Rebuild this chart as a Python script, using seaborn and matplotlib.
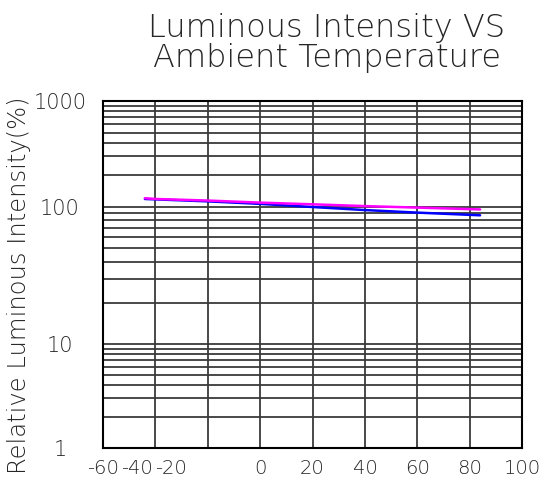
import numpy as np
import pandas as pd
import matplotlib
matplotlib.use('Agg')
import matplotlib.pyplot as plt
import matplotlib.transforms as mtransforms
from matplotlib.ticker import FixedLocator, NullFormatter
import seaborn as sns

# values
temps = [-44, -40, -20, 0, 20, 40, 60, 84]
blue_vals = [119, 118, 113, 107, 100, 95, 91, 87]
pink_vals = [121, 119, 115, 110, 106, 102, 99, 96]

x_ticks = [-60, -40, -20, 0, 20, 40, 60, 80, 100]
y_ticks = [1, 10, 100, 1000]
y_ticklabels = ['1', '10', '100', '1000']

sns.set_style('white')
plt.rcParams['font.family'] = ['DejaVu Sans']

df = pd.DataFrame({
  'temp': temps * 2,
  'val': blue_vals + pink_vals,
  'series': ['blue'] * len(temps) + ['pink'] * len(temps),
})

# the drawn grid is not an even log scale: decades sit at uneven heights
decade_log = [0, 1, 2, 3]
decade_pos = [0, 104, 241, 347.3]

def fwd(y):
  y = np.asarray(y, dtype=float)
  with np.errstate(divide='ignore', invalid='ignore'):
    ly = np.log10(np.clip(y, 1e-6, None))
  return np.interp(ly, decade_log, decade_pos)

def inv(u):
  return 10 ** np.interp(np.asarray(u, dtype=float), decade_pos, decade_log)

fig = plt.figure(figsize=(5.48, 4.86), dpi=100)
ax = fig.add_axes([103 / 548, 1 - 448 / 486, 419 / 548, 347.3 / 486])

sns.lineplot(data=df, x='temp', y='val', hue='series',
             palette={'blue': '#0000ff', 'pink': '#ff00ff'},
             linewidth=1.8, legend=False, ax=ax, zorder=3)

ax.set_yscale('function', functions=(fwd, inv))
ax.set_xlim(-60, 100)
ax.set_ylim(1, 1000)

ax.set_xticks(x_ticks)
ax.set_xticklabels([str(t) for t in x_ticks])
ax.yaxis.set_major_locator(FixedLocator(y_ticks))
ax.set_yticklabels(y_ticklabels)
minor = [m * 10 ** d for d in range(3) for m in range(2, 10)]
ax.yaxis.set_minor_locator(FixedLocator(minor))
ax.yaxis.set_minor_formatter(NullFormatter())

ax.grid(True, which='major', color='#3a3a3a', linewidth=1.3)
ax.grid(True, which='minor', axis='y', color='#3a3a3a', linewidth=1.3)
ax.tick_params(axis='both', which='both', length=0, labelsize=15)
ax.tick_params(axis='x', pad=8, labelsize=14)
ax.tick_params(axis='y', pad=31)
for lbl in ax.get_yticklabels() + ax.get_xticklabels():
  lbl.set_fontweight('light')
for lbl in ax.get_yticklabels():
  lbl.set_horizontalalignment('center')

for s in ax.spines.values():
  s.set_color('black')
  s.set_linewidth(1.5)

# the -40 and -20 labels are drawn left of their grid lines in the original
shifts = {'-40': -18, '-20': -37}
for lbl in ax.get_xticklabels():
  if lbl.get_text() in shifts:
    off = mtransforms.ScaledTranslation(shifts[lbl.get_text()] / 100, 0, fig.dpi_scale_trans)
    lbl.set_transform(lbl.get_transform() + off)

ax.set_xlabel('')
ax.set_ylabel('Relative Luminous Intensity(%)', fontsize=17.5, fontweight='light')
ax.yaxis.set_label_coords(-72 / 419, 0.469)

fig.text(327 / 548, 1 - 13 / 486, 'Luminous Intensity VS\nAmbient Temperature',
         ha='center', va='top', fontsize=23, fontweight='light', linespacing=1.0)

fig.savefig('out.png', dpi=100)
